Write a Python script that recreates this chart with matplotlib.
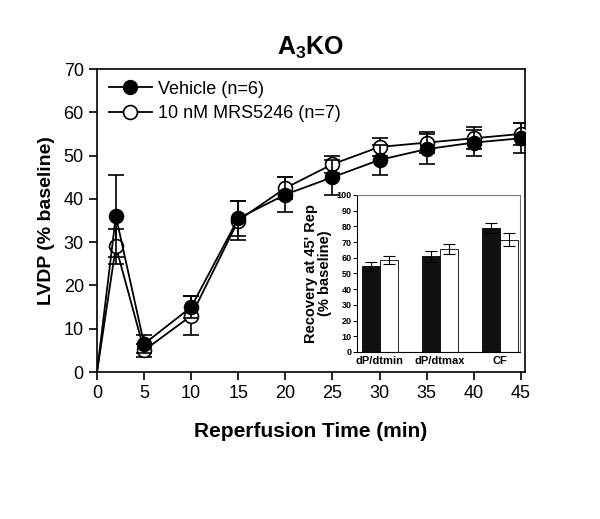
import matplotlib.pyplot as plt
from matplotlib.lines import Line2D
import numpy as np

plt.rcParams['font.family'] = ['Liberation Sans', 'DejaVu Sans']
plt.rcParams['mathtext.fontset'] = 'custom'
plt.rcParams['mathtext.rm'] = 'Liberation Sans'
plt.rcParams['mathtext.bf'] = 'Liberation Sans:bold'

# Main time course
time_min = [0, 2, 5, 10, 15, 20, 25, 30, 35, 40, 45]
vehicle = [0, 36, 6.5, 15, 35.5, 41, 45, 49, 51.5, 53, 54]
vehicle_err = [0, 9.5, 2, 2.5, 4, 4, 4, 3.5, 3.5, 3, 3.5]
mrs = [0, 29, 5, 13, 35, 42.5, 48, 52, 53, 54, 55]
mrs_err = [0, 4, 1.5, 4.5, 4.5, 2.5, 2, 2, 2.5, 2.5, 2.5]

# Inset bars
bar_labels = ['dP/dtmin', 'dP/dtmax', 'CF']
bar_vehicle = [54.5, 61, 79]
bar_vehicle_err = [3, 3.5, 3]
bar_mrs = [58.5, 65.5, 71.5]
bar_mrs_err = [2.5, 3, 4]

fig = plt.figure(figsize=(6, 5.19), dpi=100)
ax = fig.add_axes([0.1617, 0.2832, 0.7133, 0.5838])

# open symbols first, filled on top; no marker at t=0
for vals, errs, face, z in [(mrs, mrs_err, 'white', 3), (vehicle, vehicle_err, 'black', 4)]:
    ax.plot(time_min, vals, color='black', lw=1.3, zorder=z)
    ax.errorbar(time_min[1:], vals[1:], yerr=errs[1:], fmt='none', ecolor='black',
                capsize=6, elinewidth=1.2, capthick=1.2, zorder=z)
    ax.plot(time_min[1:], vals[1:], ls='none', marker='o', ms=10, mfc=face,
            mec='black', mew=1.2, zorder=z + 0.5)

ax.set_xlim(0, 45.45)
ax.set_ylim(0, 70)
ax.set_xticks(np.arange(0, 46, 5))
ax.set_yticks(np.arange(0, 71, 10))
ax.tick_params(direction='out', length=6, width=1.2, labelsize=13)
for s in ax.spines.values():
    s.set_linewidth(1.2)

ax.set_xlabel('Reperfusion Time (min)', fontsize=15, fontweight='bold', labelpad=14)
ax.set_ylabel('LVDP (% baseline)', fontsize=14, fontweight='bold', labelpad=6)
ax.set_title(r'$\mathbf{A_3KO}$', fontsize=18, pad=10)

handles = [
    Line2D([], [], color='black', lw=1.3, marker='o', ms=10, mfc='black', mec='black'),
    Line2D([], [], color='black', lw=1.3, marker='o', ms=10, mfc='white', mec='black', mew=1.2),
]
ax.legend(handles, ['Vehicle (n=6)', '10 nM MRS5246 (n=7)'], loc='upper left',
          frameon=False, fontsize=13, handlelength=2.4, handletextpad=0.3,
          borderaxespad=0.25, labelspacing=0.4)

# Inset
ins = fig.add_axes([0.595, 0.3218, 0.272, 0.3025])
x = np.arange(len(bar_labels))
w = 0.3
ins.bar(x - w / 2, bar_vehicle, w, yerr=bar_vehicle_err, color='#111111',
        edgecolor='black', lw=0.6, capsize=4, error_kw=dict(elinewidth=0.8, capthick=0.8))
ins.bar(x + w / 2, bar_mrs, w, yerr=bar_mrs_err, color='white',
        edgecolor='black', lw=0.6, capsize=4, error_kw=dict(elinewidth=0.8, capthick=0.8))
ins.set_xlim(-0.38, 2.33)
ins.set_ylim(0, 100)
ins.set_yticks(np.arange(0, 101, 10))
ins.set_xticks(x)
ins.set_xticklabels(bar_labels, fontsize=8, fontweight='bold')
ins.tick_params(axis='x', length=0, pad=3)
ins.tick_params(axis='y', direction='out', length=3, width=0.7, labelsize=6.5, pad=1)
for lab in ins.get_yticklabels():
    lab.set_fontweight('bold')
for s in ins.spines.values():
    s.set_color('#777777')
    s.set_linewidth(0.8)
ins.spines['left'].set_color('black')
ins.spines['bottom'].set_color('black')
ins.set_ylabel("Recovery at 45' Rep\n(% baseline)", fontsize=10.5, fontweight='bold',
               labelpad=3, linespacing=1.0)

fig.savefig('out.png', dpi=100)
